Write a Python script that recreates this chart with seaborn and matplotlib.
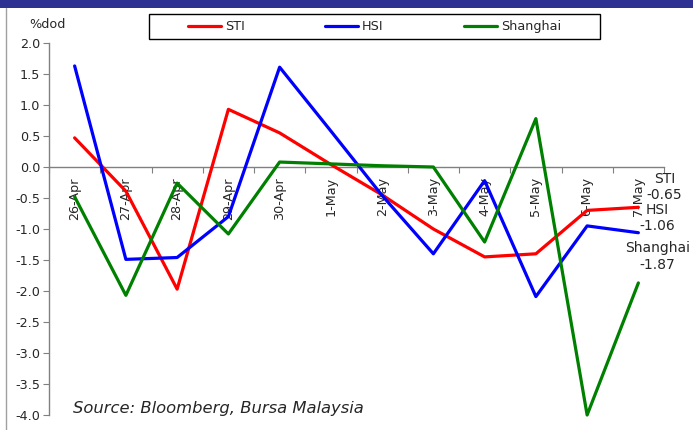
import matplotlib
matplotlib.use("Agg")
import matplotlib.pyplot as plt
import seaborn as sns
import pandas as pd
from matplotlib.patches import Rectangle
from matplotlib.lines import Line2D

# ---- data ----
dates = ["26-Apr", "27-Apr", "28-Apr", "29-Apr", "30-Apr", "1-May",
         "2-May", "3-May", "4-May", "5-May", "6-May", "7-May"]
sti = [0.47, -0.39, -1.97, 0.93, 0.55, 0.04, -0.45, -1.00, -1.45, -1.40, -0.70, -0.65]
hsi = [1.63, -1.49, -1.46, -0.80, 1.61, 0.58, -0.46, -1.40, -0.22, -2.09, -0.95, -1.06]
shanghai = [-0.48, -2.07, -0.26, -1.08, 0.08, 0.05, 0.02, 0.00, -1.21, 0.78, -4.00, -1.87]
series_names = ["STI", "HSI", "Shanghai"]
y_ticks = [2.0, 1.5, 1.0, 0.5, 0.0, -0.5, -1.0, -1.5, -2.0, -2.5, -3.0, -3.5, -4.0]

colors = {"STI": "#FF0000", "HSI": "#0000FF", "Shanghai": "#008000"}
label_offsets = {"STI": (18.7, 14.8), "HSI": (13.7, 10.8), "Shanghai": (13.7, 19.1)}

sns.set_style("white")
plt.rcParams["font.family"] = ["DejaVu Sans"]

values = {"STI": sti, "HSI": hsi, "Shanghai": shanghai}
rows = []
for name in series_names:
    for i, v in enumerate(values[name]):
        rows.append({"pos": i, "value": v, "series": name})
df = pd.DataFrame(rows)

fig = plt.figure(figsize=(6.93, 4.30), dpi=100)
ax = fig.add_axes([49 / 693, 1 - 415 / 430, 615 / 693, 372 / 430])

sns.lineplot(data=df, x="pos", y="value", hue="series", hue_order=series_names,
             palette=colors, linewidth=2.3, sort=False, legend=False, ax=ax,
             clip_on=False)

ax.set_xlim(-0.5, len(dates) - 0.5)
ax.set_ylim(-4.0, 2.0)
ax.set_xlabel("")
ax.set_ylabel("")

gray = "#808080"
for s in ["top", "right"]:
    ax.spines[s].set_visible(False)
ax.spines["left"].set_color(gray)
ax.spines["left"].set_linewidth(1.0)
ax.spines["bottom"].set_position(("data", 0))
ax.spines["bottom"].set_color(gray)
ax.spines["bottom"].set_linewidth(1.0)
ax.spines["bottom"].set_zorder(1)

ax.set_yticks(y_ticks)
ax.set_yticklabels([f"{t:.1f}" for t in y_ticks])
ax.tick_params(axis="y", direction="out", length=4.3, width=0.8, color=gray,
               pad=2, labelsize=9.2, left=True)

# category boundaries as major ticks, labels on minor ticks at centers
ax.set_xticks([i - 0.5 for i in range(len(dates) + 1)])
ax.set_xticklabels([])
ax.set_xticks(range(len(dates)), minor=True)
ax.set_xticklabels(dates, minor=True, rotation=90, fontsize=9.2)
ax.tick_params(axis="x", which="major", direction="out", length=4, width=0.8,
               color=gray, bottom=True)
ax.tick_params(axis="x", which="minor", length=0, pad=7.2, bottom=True)

# end labels
for name in series_names:
    last = values[name][-1]
    ax.annotate(f"{name}\n{last:.2f}", xy=(len(dates) - 1, last),
                xytext=label_offsets[name], textcoords="offset points",
                ha="center", va="center", fontsize=10, linespacing=1.2,
                annotation_clip=False)

# y-axis unit label
fig.text(47 / 693, 1 - 25 / 430, "%dod", ha="center", va="center", fontsize=9.2)

# legend with separate box
fig.patches.append(Rectangle((149 / 693, 1 - 39 / 430), 451 / 693, 25 / 430,
                             transform=fig.transFigure, fill=False,
                             edgecolor="black", linewidth=1.0))
handles = [Line2D([0], [0], color=colors[n], linewidth=2.3) for n in series_names]
fig.legend(handles, series_names, loc="center", ncol=3, frameon=False,
           bbox_to_anchor=(374.5 / 693, 1 - 26.5 / 430), fontsize=9.2,
           handlelength=2.6, handletextpad=0.3, columnspacing=6.3)

# source note
fig.text(73 / 693, 1 - 408 / 430, "Source: Bloomberg, Bursa Malaysia",
         ha="left", va="center", fontsize=11.8, style="italic")

# top band and left border
fig.patches.append(Rectangle((0, 1 - 8 / 430), 1, 8 / 430, transform=fig.transFigure,
                             facecolor="#2E3192", edgecolor="none"))
fig.lines.append(Line2D([6 / 693, 6 / 693], [0, 1 - 8 / 430], transform=fig.transFigure,
                        color="#A0A0A0", linewidth=1.0))

fig.savefig("out.png", dpi=100)
